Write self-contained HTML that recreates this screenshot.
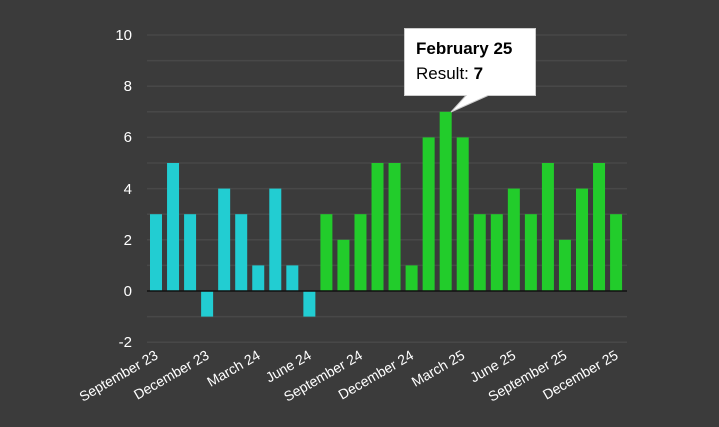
<!DOCTYPE html>
<html><head><meta charset="utf-8"><style>
html,body{margin:0;padding:0;background:#3b3b3b;}
svg{display:block;font-family:"Liberation Sans",Arial,sans-serif;}
</style></head><body>
<svg width="719" height="427" viewBox="0 0 719 427">
<rect width="719" height="427" fill="#3b3b3b"/>
<g stroke="#484848" stroke-width="1.5">
<line x1="147" x2="627" y1="35" y2="35"/><line x1="147" x2="627" y1="60.6" y2="60.6"/>
<line x1="147" x2="627" y1="86.2" y2="86.2"/><line x1="147" x2="627" y1="111.8" y2="111.8"/>
<line x1="147" x2="627" y1="137.4" y2="137.4"/><line x1="147" x2="627" y1="163" y2="163"/>
<line x1="147" x2="627" y1="188.6" y2="188.6"/><line x1="147" x2="627" y1="214.2" y2="214.2"/>
<line x1="147" x2="627" y1="239.8" y2="239.8"/><line x1="147" x2="627" y1="265.4" y2="265.4"/>
<line x1="147" x2="627" y1="316.6" y2="316.6"/><line x1="147" x2="627" y1="342.2" y2="342.2"/>
</g>
<g fill="#fff" font-size="15" text-anchor="end">
<text x="132" y="40">10</text><text x="132" y="91">8</text><text x="132" y="142">6</text>
<text x="132" y="194">4</text><text x="132" y="245">2</text><text x="132" y="296">0</text><text x="132" y="347">-2</text>
</g>
<g fill="#22cdd2">
<rect x="150" y="214.2" width="12" height="76.8"/>
<rect x="167.04" y="163" width="12" height="128"/>
<rect x="184.08" y="214.2" width="12" height="76.8"/>
<rect x="201.12" y="291" width="12" height="25.6"/>
<rect x="218.16" y="188.6" width="12" height="102.4"/>
<rect x="235.2" y="214.2" width="12" height="76.8"/>
<rect x="252.24" y="265.4" width="12" height="25.6"/>
<rect x="269.28" y="188.6" width="12" height="102.4"/>
<rect x="286.32" y="265.4" width="12" height="25.6"/>
<rect x="303.36" y="291" width="12" height="25.6"/>
</g>
<g fill="#22cc2b">
<rect x="320.4" y="214.2" width="12" height="76.8"/>
<rect x="337.44" y="239.8" width="12" height="51.2"/>
<rect x="354.48" y="214.2" width="12" height="76.8"/>
<rect x="371.52" y="163" width="12" height="128"/>
<rect x="388.56" y="163" width="12" height="128"/>
<rect x="405.6" y="265.4" width="12" height="25.6"/>
<rect x="422.64" y="137.4" width="12" height="153.6"/>
<rect x="439.68" y="111.8" width="12" height="179.2"/>
<rect x="456.72" y="137.4" width="12" height="153.6"/>
<rect x="473.76" y="214.2" width="12" height="76.8"/>
<rect x="490.8" y="214.2" width="12" height="76.8"/>
<rect x="507.84" y="188.6" width="12" height="102.4"/>
<rect x="524.88" y="214.2" width="12" height="76.8"/>
<rect x="541.92" y="163" width="12" height="128"/>
<rect x="558.96" y="239.8" width="12" height="51.2"/>
<rect x="576" y="188.6" width="12" height="102.4"/>
<rect x="593.04" y="163" width="12" height="128"/>
<rect x="610.08" y="214.2" width="12" height="76.8"/>
</g>
<line x1="147" x2="627" y1="291" y2="291" stroke="#111" stroke-width="1.5"/>
<g fill="#fff" font-size="14" text-anchor="end">
<text transform="translate(159,358) rotate(-30)">September 23</text>
<text transform="translate(210.1,358) rotate(-30)">December 23</text>
<text transform="translate(261.2,358) rotate(-30)">March 24</text>
<text transform="translate(312.4,358) rotate(-30)">June 24</text>
<text transform="translate(363.5,358) rotate(-30)">September 24</text>
<text transform="translate(414.6,358) rotate(-30)">December 24</text>
<text transform="translate(465.7,358) rotate(-30)">March 25</text>
<text transform="translate(516.8,358) rotate(-30)">June 25</text>
<text transform="translate(567.9,358) rotate(-30)">September 25</text>
<text transform="translate(619.1,358) rotate(-30)">December 25</text>
</g>
<path d="M404.5 28.5 H535.5 V95.5 H488 L451 112 L466 95.5 H404.5 Z" fill="#fff" stroke="#ccc" stroke-width="1"/>
<text x="416" y="54" font-size="17" font-weight="bold" fill="#000">February 25</text>
<text x="416" y="79" font-size="17" fill="#000">Result: <tspan font-weight="bold">7</tspan></text>
</svg>
</body></html>
